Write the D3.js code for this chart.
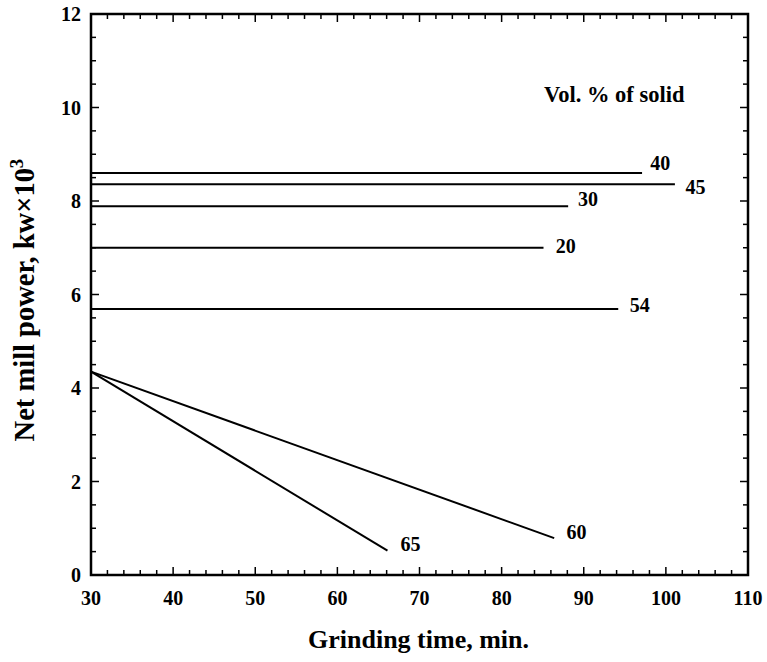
<!DOCTYPE html>
<meta charset="utf-8">
<title>Net mill power vs grinding time</title>
<style>
  body { margin: 0; background: #fff; }
  text { font-family: "Liberation Serif", "Times New Roman", serif; font-weight: bold; fill: #000; }
  .series { fill: none; stroke: #000; stroke-width: 2px; }
  .frame { fill: none; stroke: #000; stroke-width: 2.5px; }
  .tick { stroke: #000; stroke-width: 1.5px; }
</style>
<body>
<script src="https://cdn.jsdelivr.net/npm/d3@7"></script>
<script>
  // data
  var solids = ["40", "45", "30", "20", "54", "60", "65"];
  var startX = [30, 30, 30, 30, 30, 30, 30];
  var startY = [8.6, 8.36, 7.89, 7.0, 5.69, 4.35, 4.35];
  var endX = [97.1, 101.1, 88.1, 85.1, 94.2, 86.4, 66.1];
  var endY = [8.6, 8.36, 7.89, 7.0, 5.69, 0.79, 0.52];
  // where each curve's label baseline starts, in data units
  var labelX = [98.1, 102.4, 89.3, 86.6, 95.6, 87.9, 67.7];
  var labelY = [8.66, 8.15, 7.90, 6.89, 5.63, 0.77, 0.51];

  var xTicks = [30, 40, 50, 60, 70, 80, 90, 100, 110];
  var yTicks = [0, 2, 4, 6, 8, 10, 12];

  var width = 767, height = 662;
  var mLeft = 91, mRight = 748, mTop = 14, mBottom = 575;

  var svg = d3.select("body").append("svg")
    .attr("width", width)
    .attr("height", height);

  var x = d3.scaleLinear().domain([30, 110]).range([mLeft, mRight]);
  var y = d3.scaleLinear().domain([0, 12]).range([mBottom, mTop]);

  // minor + major ticks, pointing inward on all four sides
  var xMinor = d3.range(30, 110.01, 2);
  var yMinor = d3.range(0, 12.01, 0.5);
  var tickG = svg.append("g");

  xMinor.forEach(function(v) {
    var len = (v % 10 === 0) ? 8 : 5;
    tickG.append("line").attr("class", "tick")
      .attr("x1", x(v)).attr("x2", x(v)).attr("y1", mBottom).attr("y2", mBottom - len);
    tickG.append("line").attr("class", "tick")
      .attr("x1", x(v)).attr("x2", x(v)).attr("y1", mTop).attr("y2", mTop + len);
  });
  yMinor.forEach(function(v) {
    var len = (Math.abs(v % 2) < 1e-9) ? 8 : 5;
    tickG.append("line").attr("class", "tick")
      .attr("x1", mLeft).attr("x2", mLeft + len).attr("y1", y(v)).attr("y2", y(v));
    tickG.append("line").attr("class", "tick")
      .attr("x1", mRight).attr("x2", mRight - len).attr("y1", y(v)).attr("y2", y(v));
  });

  svg.append("rect").attr("class", "frame")
    .attr("x", mLeft).attr("y", mTop)
    .attr("width", mRight - mLeft).attr("height", mBottom - mTop);

  // tick labels
  svg.selectAll(".xlab").data(xTicks).enter().append("text")
    .attr("x", d => x(d)).attr("y", mBottom + 30)
    .attr("text-anchor", "middle").style("font-size", "20px")
    .text(d => d);
  svg.selectAll(".ylab").data(yTicks).enter().append("text")
    .attr("x", mLeft - 10).attr("y", d => y(d) + 7)
    .attr("text-anchor", "end").style("font-size", "20px")
    .text(d => d);

  // series
  solids.forEach(function(s, i) {
    svg.append("line").attr("class", "series")
      .attr("x1", x(startX[i])).attr("y1", y(startY[i]))
      .attr("x2", x(endX[i])).attr("y2", y(endY[i]));
    svg.append("text")
      .attr("x", x(labelX[i])).attr("y", y(labelY[i]))
      .style("font-size", "20px")
      .text(s);
  });

  svg.append("text")
    .attr("x", 544).attr("y", 102)
    .style("font-size", "22.5px")
    .text("Vol. % of solid");

  // axis titles
  svg.append("text")
    .attr("x", 308).attr("y", 648)
    .style("font-size", "26px")
    .text("Grinding time, min.");

  var yt = svg.append("text")
    .attr("transform", "translate(34," + 300 + ") rotate(-90)")
    .attr("text-anchor", "middle").style("font-size", "28.5px");
  yt.append("tspan").text("Net mill power, kw\u00d710");
  yt.append("tspan").attr("dy", -11).style("font-size", "19px").text("3");
</script>
</body>
